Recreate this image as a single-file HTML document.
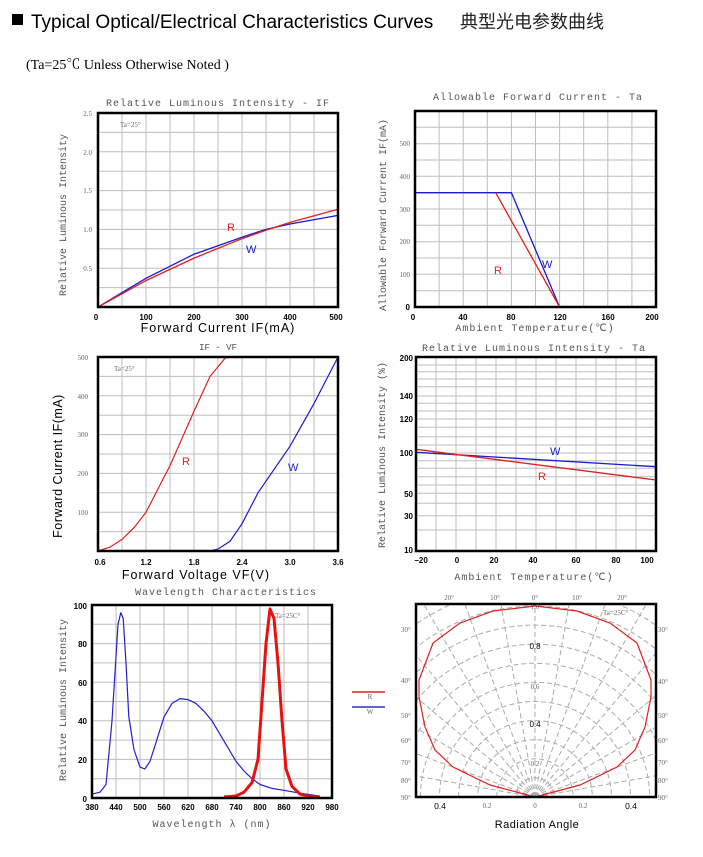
<!DOCTYPE html>
<html><head><meta charset="utf-8"><style>
html,body{margin:0;padding:0;background:#fff;width:703px;height:857px;overflow:hidden;}
svg{display:block;}
.t{font-family:"Liberation Mono",monospace;fill:#555;}
.s{font-family:"Liberation Sans",sans-serif;}
.g{stroke:#bdbdbd;stroke-width:1;fill:none;}
.box{fill:none;stroke:#000;stroke-width:2.5;}
.tk{font-family:"Liberation Sans",sans-serif;font-size:8px;font-weight:bold;fill:#000;}
.ty{font-family:"Liberation Serif",serif;font-size:7px;fill:#666;}
</style></head><body>
<svg width="703" height="857" viewBox="0 0 703 857" xmlns="http://www.w3.org/2000/svg">
<rect x="12" y="14" width="11" height="11" fill="#000"/>
<text x="31" y="28" class="s" font-size="19" fill="#000">Typical Optical/Electrical Characteristics Curves</text>
<text x="460" y="28" font-family="'Liberation Sans','Noto Sans CJK SC',sans-serif" font-size="18" fill="#222">典型光电参数曲线</text>
<text x="26" y="69" font-family="'Liberation Serif','Noto Serif CJK SC',serif" font-size="14" fill="#000">(Ta=25℃  Unless Otherwise Noted )</text>

<!-- Chart 1 -->
<text x="218" y="106" class="t" font-size="10" text-anchor="middle" letter-spacing="1">Relative Luminous Intensity - IF</text>
<g class="g">
<path d="M122 113V307M146 113V307M170 113V307M194 113V307M218 113V307M242 113V307M266 113V307M290 113V307M314 113V307"/>
<path d="M98 287.6H338M98 268.2H338M98 248.8H338M98 229.4H338M98 210H338M98 190.6H338M98 171.2H338M98 151.8H338M98 132.4H338"/>
</g>
<polyline fill="none" stroke="#1a1ad0" stroke-width="1.3" points="98,307 146,278.3 194,254.2 242,237.2 266,229.4 290,224 338,215.4"/>
<polyline fill="none" stroke="#e02020" stroke-width="1.3" points="98,307 146,280.6 194,258.1 242,238.7 266,230.2 290,222.4 338,209.2"/>
<rect x="98" y="113" width="240" height="194" class="box"/>
<text x="120" y="127" class="ty" font-size="8">Ta=25°</text>
<text x="227" y="231" class="s" font-size="11" fill="#e02020">R</text>
<text x="246" y="253" class="s" font-size="11" fill="#1a1ad0">W</text>
<g class="ty" text-anchor="end"><text x="92" y="116">2.5</text><text x="92" y="155">2.0</text><text x="92" y="193">1.5</text><text x="92" y="232">1.0</text><text x="92" y="271">0.5</text></g>
<g class="tk" text-anchor="middle"><text x="96" y="320">0</text><text x="146" y="320">100</text><text x="194" y="320">200</text><text x="242" y="320">300</text><text x="290" y="320">400</text><text x="336" y="320">500</text></g>
<text x="218" y="332" class="s" font-size="12.5" text-anchor="middle" letter-spacing="1">Forward Current IF(mA)</text>
<text transform="translate(66,215) rotate(-90)" class="t" font-size="10" text-anchor="middle">Relative Luminous Intensity</text>

<!-- Chart 2 -->
<text x="538" y="100" class="t" font-size="10" text-anchor="middle" letter-spacing="1">Allowable Forward Current - Ta</text>
<g class="g">
<path d="M439.1 111V307M463.2 111V307M487.3 111V307M511.4 111V307M535.5 111V307M559.6 111V307M583.7 111V307M607.8 111V307M631.9 111V307"/>
<path d="M415 290.7H656M415 274.3H656M415 258H656M415 241.7H656M415 225.3H656M415 209H656M415 192.7H656M415 176.3H656M415 160H656M415 143.7H656M415 127.3H656"/>
</g>
<polyline fill="none" stroke="#1a1ad0" stroke-width="1.3" points="415,192.7 511.4,192.7 559.6,307"/>
<polyline fill="none" stroke="#e02020" stroke-width="1.3" points="495.7,192.7 559.6,307"/>
<rect x="415" y="111" width="241" height="196" class="box"/>
<text x="494" y="274" class="s" font-size="11" fill="#e02020">R</text>
<text x="542" y="268" class="s" font-size="11" fill="#1a1ad0">W</text>
<g class="ty" text-anchor="end"><text x="410" y="146">500</text><text x="410" y="179">400</text><text x="410" y="212">300</text><text x="410" y="244">200</text><text x="410" y="277">100</text><text x="410" y="310" class="tk">0</text></g>
<g class="tk" text-anchor="middle"><text x="413" y="320">0</text><text x="463" y="320">40</text><text x="511" y="320">80</text><text x="560" y="320">120</text><text x="608" y="320">160</text><text x="652" y="320">200</text></g>
<text x="535" y="331" class="t" font-size="10" text-anchor="middle" letter-spacing="1">Ambient Temperature(℃)</text>
<text transform="translate(386,215) rotate(-90)" class="t" font-size="10" text-anchor="middle">Allowable Forward Current IF(mA)</text>

<!-- Chart 3 -->
<text x="218" y="350" class="t" font-size="9" text-anchor="middle">IF - VF</text>
<g class="g">
<path d="M122 357V551M146 357V551M170 357V551M194 357V551M218 357V551M242 357V551M266 357V551M290 357V551M314 357V551"/>
<path d="M98 531.6H338M98 512.2H338M98 492.8H338M98 473.4H338M98 454H338M98 434.6H338M98 415.2H338M98 395.8H338M98 376.4H338"/>
</g>
<polyline fill="none" stroke="#e02020" stroke-width="1.2" points="98,551 110,547.1 122,539.4 134,527.7 146,512.2 170,465.6 194,411.3 210,376.4 226,357"/>
<polyline fill="none" stroke="#1a1ad0" stroke-width="1.2" points="98,551 210,551 218,549.1 230,541.3 242,523.8 258,492.8 290,446.2 314,403.6 338,357"/>
<rect x="98" y="357" width="240" height="194" class="box"/>
<text x="114" y="371" class="ty" font-size="10">Ta=25°</text>
<text x="182" y="465" class="s" font-size="11" fill="#e02020">R</text>
<text x="288" y="471" class="s" font-size="11" fill="#1a1ad0">W</text>
<g class="ty" text-anchor="end"><text x="88" y="360">500</text><text x="88" y="399">400</text><text x="88" y="437">300</text><text x="88" y="476">200</text><text x="88" y="515">100</text></g>
<g class="tk" text-anchor="middle"><text x="100" y="565">0.6</text><text x="146" y="565">1.2</text><text x="194" y="565">1.8</text><text x="242" y="565">2.4</text><text x="290" y="565">3.0</text><text x="338" y="565">3.6</text></g>
<text x="196" y="579" class="s" font-size="12.5" text-anchor="middle" letter-spacing="1">Forward Voltage VF(V)</text>
<text transform="translate(62,466) rotate(-90)" class="s" font-size="12.5" text-anchor="middle" letter-spacing="0.5">Forward Current IF(mA)</text>

<!-- Chart 4 -->
<text x="534" y="351" class="t" font-size="10" text-anchor="middle" letter-spacing="1">Relative Luminous Intensity - Ta</text>
<g class="g">
<path d="M436 357V551M456 357V551M476 357V551M496 357V551M516 357V551M536 357V551M556 357V551M576 357V551M596 357V551M616 357V551M636 357V551"/>
<path d="M416 365H656M416 371.7H656M416 379H656M416 386.7H656M416 396H656M416 403.3H656M416 411H656M416 419H656M416 427.3H656M416 436.7H656M416 445H656M416 453H656M416 460.7H656M416 468.3H656M416 476.7H656M416 485H656M416 493.3H656M416 503.3H656M416 515.7H656M416 530H656"/>
</g>
<line x1="416" y1="452.3" x2="656" y2="466.7" stroke="#1a1ad0" stroke-width="1.3"/>
<line x1="416" y1="449.3" x2="656" y2="480" stroke="#e02020" stroke-width="1.3"/>
<rect x="416" y="357" width="240" height="194" class="box"/>
<text x="550" y="455" class="s" font-size="11" fill="#1a1ad0">W</text>
<text x="538" y="480" class="s" font-size="11" fill="#e02020">R</text>
<g class="tk" text-anchor="end"><text x="413" y="361">200</text><text x="413" y="399">140</text><text x="413" y="422">120</text><text x="413" y="456">100</text><text x="413" y="497">50</text><text x="413" y="519">30</text><text x="413" y="553">10</text></g>
<g class="tk" text-anchor="middle"><text x="421" y="563">−20</text><text x="457" y="563">0</text><text x="494" y="563">20</text><text x="533" y="563">40</text><text x="576" y="563">60</text><text x="616" y="563">80</text><text x="647" y="563">100</text></g>
<text x="534" y="580" class="t" font-size="10" text-anchor="middle" letter-spacing="1">Ambient Temperature(℃)</text>
<text transform="translate(385,455) rotate(-90)" class="t" font-size="10" text-anchor="middle">Relative Luminous Intensity (%)</text>

<!-- Chart 5 -->
<text x="226" y="595" class="t" font-size="10" text-anchor="middle" letter-spacing="1">Wavelength Characteristics</text>
<g class="g">
<path d="M116 605V798M140 605V798M164 605V798M188 605V798M212 605V798M236 605V798M260 605V798M284 605V798M308 605V798"/>
<path d="M92 778.7H332M92 759.4H332M92 740.1H332M92 720.8H332M92 701.5H332M92 682.2H332M92 662.9H332M92 643.6H332M92 624.3H332"/>
</g>
<polyline fill="none" stroke="#2020d0" stroke-width="1.2" stroke-linejoin="round" points="92,794.1 100,792.2 106,784.5 112,720.8 118,624.3 120.8,612.7 123.2,618.5 126,662.9 128.8,716.9 134,749.8 140,767.1 144.8,769 150,761.3 158,736.2 164,716.9 172,703.4 180,698.6 188,699.6 196,703.4 204,711.2 212,720.8 220,734.3 228,747.8 236,761.3 244,771 252,778.7 260,784.5 272,788.4 284,790.3 300,793.2 320,796.1"/>
<polyline fill="none" stroke="#e81010" stroke-width="3" stroke-linejoin="round" points="224,797 236,796 244,792.2 252,782.6 258,759.4 262,701.5 266,643.6 270,608.9 274,618.5 278,663 282,720.8 286,769 292,786.4 300,794.1 308,796.1 320,797"/>
<rect x="92" y="605" width="240" height="193" class="box"/>
<text x="275" y="618" class="ty" font-size="10">Ta=25C°</text>
<g class="tk" text-anchor="end"><text x="87" y="609">100</text><text x="87" y="647">80</text><text x="87" y="686">60</text><text x="87" y="724">40</text><text x="87" y="763">20</text><text x="87" y="802">0</text></g>
<g class="tk" text-anchor="middle"><text x="92" y="810">380</text><text x="116" y="810">440</text><text x="140" y="810">500</text><text x="164" y="810">560</text><text x="188" y="810">620</text><text x="212" y="810">680</text><text x="236" y="810">740</text><text x="260" y="810">800</text><text x="284" y="810">860</text><text x="308" y="810">920</text><text x="332" y="810">980</text></g>
<text x="212" y="827" class="t" font-size="10" text-anchor="middle" letter-spacing="1">Wavelength λ (nm)</text>
<text transform="translate(66,700) rotate(-90)" class="t" font-size="10" text-anchor="middle">Relative Luminous Intensity</text>
<line x1="352" y1="692" x2="385" y2="692" stroke="#e02020" stroke-width="1.5"/>
<text x="370" y="699" class="ty" font-size="5" text-anchor="middle">R</text>
<line x1="352" y1="707" x2="385" y2="707" stroke="#3030c0" stroke-width="1.5"/>
<text x="370" y="714" class="ty" font-size="5" text-anchor="middle">W</text>

<!-- Chart 6 polar -->
<defs><clipPath id="pc"><rect x="416" y="604" width="240" height="193"/></clipPath></defs>
<g clip-path="url(#pc)" stroke="#aaa" stroke-width="1" stroke-dasharray="5,3" fill="none">
<circle cx="535" cy="797" r="19.1"/><circle cx="535" cy="797" r="38.2"/><circle cx="535" cy="797" r="57.3"/><circle cx="535" cy="797" r="76.4"/><circle cx="535" cy="797" r="95.5"/><circle cx="535" cy="797" r="114.6"/><circle cx="535" cy="797" r="133.7"/><circle cx="535" cy="797" r="152.8"/><circle cx="535" cy="797" r="171.9"/><circle cx="535" cy="797" r="191"/><circle cx="535" cy="797" r="210"/><circle cx="535" cy="797" r="229"/>
<path d="M535 797L535 560M535 797L493.6 562.7M535 797L453.7 573.3M535 797L417.5 593.5M535 797L381 613.5M535 797L352.3 643.7M535 797L329.5 678.3M535 797L311.2 715.5M535 797L300 755.6M535 797L300 797M535 797L576.4 562.7M535 797L616.3 573.3M535 797L652.5 593.5M535 797L689 613.5M535 797L717.7 643.7M535 797L740.5 678.3M535 797L758.8 715.5M535 797L770 755.6M535 797L770 797"/>
</g>
<polyline fill="none" stroke="#e02020" stroke-width="1.2" points="535,606 493,611 460,623 433,643 419,680 419,697 425,727 435,750 453,767 490,785 535,797 580,785 617,767 635,750 645,727 651,697 651,680 637,643 610,623 577,611 535,606"/>
<rect x="416" y="604" width="240" height="193" class="box"/>
<text x="603" y="615" class="ty" font-size="10">Ta=25C°</text>
<g class="ty" text-anchor="middle" font-size="6.5"><text x="449" y="600">20°</text><text x="495" y="600">10°</text><text x="535" y="600">0°</text><text x="577" y="600">10°</text><text x="622" y="600">20°</text></g>
<g class="ty" font-size="6.5"><text x="401" y="632">30°</text><text x="401" y="683">40°</text><text x="401" y="718">50°</text><text x="401" y="743">60°</text><text x="401" y="765">70°</text><text x="401" y="783">80°</text><text x="401" y="800">90°</text>
<text x="658" y="632">30°</text><text x="658" y="684">40°</text><text x="658" y="718">50°</text><text x="658" y="743">60°</text><text x="658" y="765">70°</text><text x="658" y="783">80°</text><text x="658" y="800">90°</text></g>
<g text-anchor="middle"><text x="535" y="609" class="ty" font-size="7">1.0</text><text x="535" y="649" class="s" font-size="8">0.8</text><text x="535" y="689" class="ty" font-size="7">0.6</text><text x="535" y="727" class="s" font-size="8">0.4</text><text x="535" y="766" class="ty" font-size="7">0.2</text></g>
<g text-anchor="middle"><text x="440" y="809" class="s" font-size="8.5">0.4</text><text x="487" y="808" class="ty">0.2</text><text x="535" y="808" class="ty">0</text><text x="583" y="808" class="ty">0.2</text><text x="631" y="809" class="s" font-size="8.5">0.4</text></g>
<text x="537" y="828" class="s" font-size="11" text-anchor="middle" letter-spacing="0.5">Radiation Angle</text>
</svg>
</body></html>
